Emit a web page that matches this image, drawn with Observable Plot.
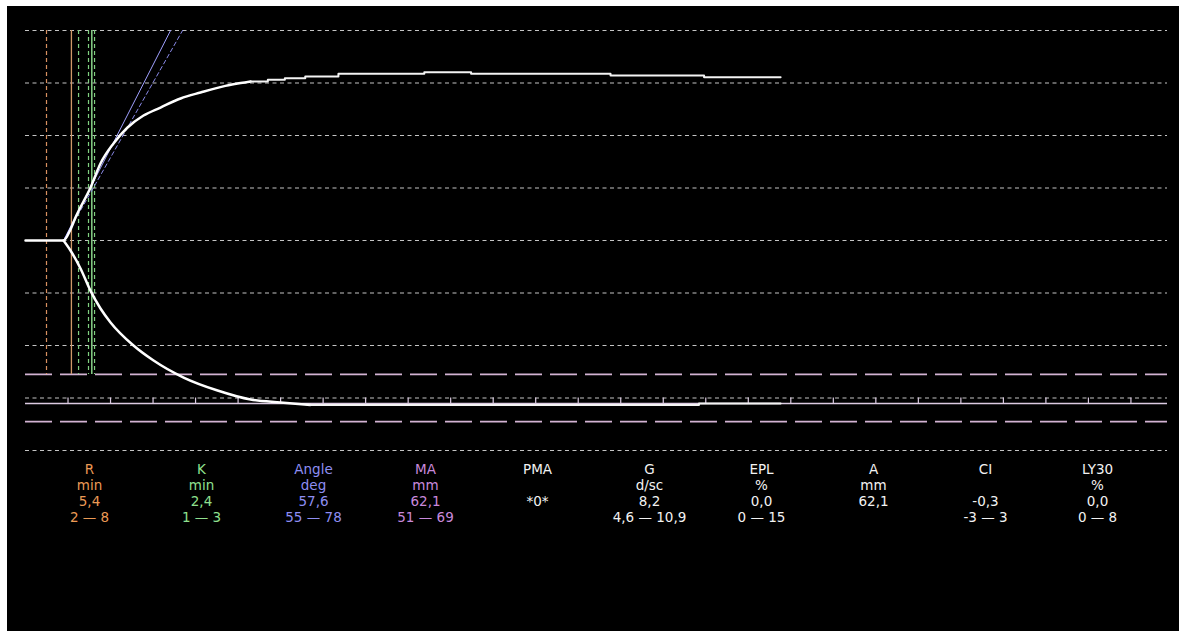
<!DOCTYPE html>
<html>
<head>
<meta charset="utf-8">
<script src="https://cdn.jsdelivr.net/npm/d3@7"></script>
<script src="https://cdn.jsdelivr.net/npm/@observablehq/plot@0.6"></script>
<style>
  html, body { background: #ffffff; }
  body { margin: 6px 0 0 7px; }
  #chart { width: 1172px; height: 625px; background: #000; overflow: hidden; }
  #chart svg { display: block; }
</style>
</head>
<body>
<div id="chart"></div>
<script>
// ---- Data (time in minutes, half-amplitude in mm) ----
const gridValues = [-40, -30, -20, -10, 0, 10, 20, 30, 40];

// Upper envelope, rising part
const upperT = [0, 4.47, 5.29, 5.88, 7.65, 8.82, 10.35, 12.0, 13.88, 15.88, 18.24, 20.59, 23.5, 25.3, 26.47];
const upperA = [0, 0, 2.1, 4.38, 10.1, 14.67, 18.48, 21.52, 23.8, 25.33, 27.05, 28.19, 29.45, 30.0, 30.3];
// Upper envelope, plateau (stepped)
const upperStepT = [26.47, 28.5, 30.5, 32.9, 36.8, 46.9, 52.4, 68.8, 79.8, 88.8];
const upperStepA = [30.3, 30.6, 30.9, 31.24, 31.75, 32.06, 31.75, 31.43, 31.1, 31.1];

// Lower envelope, falling part
const lowerT = [4.47, 5.29, 6.47, 7.65, 8.8, 10.0, 12.7, 15.06, 18.59, 22.59, 26.47, 30.0, 33.5];
const lowerA = [0, -1.9, -5.33, -9.6, -12.9, -15.6, -20, -22.86, -26.1, -28.57, -30.29, -30.86, -31.33];
// Lower envelope, plateau (stepped)
const lowerStepT = [33.5, 79.2, 88.8];
const lowerStepA = [-31.33, -31.05, -31.05];

// Angle construction lines
const angleSolidT = [4.47, 17.06];
const angleSolidA = [0, 40];
const angleDashT = [4.47, 18.47];
const angleDashA = [0, 40];

// Vertical markers (minutes)
const markerT     = [2.47, 5.4, 6.24, 7.41, 7.8, 8.12];
const markerParam = ["R", "R", "K", "K", "K", "K"];
const markerKind  = ["dash", "solid", "dash", "dash", "solid", "dash"];

// MA line, MA normal range (full amplitude, mm) and time ticks on the MA line (min)
const maValue = 62.1;
const maRange = [51, 69];
const maTicks = [5, 10, 15, 20, 25, 30, 35, 40, 45, 50, 55, 60, 65, 70, 75, 80, 85, 90, 95, 100, 105, 110, 115, 120, 125, 130];

// Parameter table
const params = ["R", "K", "Angle", "MA", "PMA", "G", "EPL", "A", "CI", "LY30"];
const units  = ["min", "min", "deg", "mm", "", "d/sc", "%", "mm", "", "%"];
const values = ["5,4", "2,4", "57,6", "62,1", "*0*", "8,2", "0,0", "62,1", "-0,3", "0,0"];
const ranges = ["2 — 8", "1 — 3", "55 — 78", "51 — 69", "", "4,6 — 10,9", "0 — 15", "", "-3 — 3", "0 — 8"];

// ---- Styles ----
const paramColor = {R: "#eb9a55", K: "#8fe08f", Angle: "#8e8ef2", MA: "#c889dc"};
const defaultText = "#f2f2f2";
const markerColor = {R: {dash: "#d89060", solid: "#d09868"}, K: {dash: "#80d080", solid: "#9cf09c"}};
const font = "'DejaVu Sans', sans-serif";

// ---- Build tables ----
const zip = (t, a) => t.map((v, i) => ({t: v, a: a[i]}));
const upper = zip(upperT, upperA);
const upperStep = zip(upperStepT, upperStepA);
const lower = zip(lowerT, lowerA);
const lowerStep = zip(lowerStepT, lowerStepA);
const angleSolid = zip(angleSolidT, angleSolidA);
const angleDash = zip(angleDashT, angleDashA);
const markers = markerT.map((t, i) => ({t, param: markerParam[i], kind: markerKind[i]}));
const xEnd = 134.3;

const tracePlot = Plot.plot({
  width: 1172, height: 454,
  marginTop: 24, marginBottom: 10, marginLeft: 18, marginRight: 12,
  x: {domain: [0, xEnd], axis: null},
  y: {domain: [-40, 40], axis: null},
  color: {type: "identity"},
  style: {background: "black", overflow: "visible"},
  marks: [
    Plot.ruleY(gridValues, {x1: 0, x2: xEnd, stroke: "#c4c4c4", strokeWidth: 1.1, strokeDasharray: "4,3.5"}),
    Plot.ruleY(maRange, {y: d => -d / 2, x1: 0, x2: xEnd, stroke: "#d3b3d3", strokeWidth: 1.6, strokeDasharray: "27,8"}),
    Plot.ruleY([maValue], {y: d => -d / 2, x1: 0, x2: xEnd, stroke: "#dccbe2", strokeWidth: 1.5}),
    Plot.ruleX(maTicks, {x: d => d, y1: -maValue / 2, y2: -30, stroke: "#dccbe2", strokeWidth: 1.2}),
    Plot.ruleX(markers.filter(d => d.kind === "dash"), {x: "t", y1: 40, y2: -maRange[0] / 2, stroke: d => markerColor[d.param].dash, strokeWidth: 1.2, strokeDasharray: "4,3"}),
    Plot.ruleX(markers.filter(d => d.kind === "solid"), {x: "t", y1: 40, y2: -maRange[0] / 2, stroke: d => markerColor[d.param].solid, strokeWidth: 1.3}),
    Plot.line(angleDash, {x: "t", y: "a", stroke: "#8a8ae8", strokeWidth: 1, strokeDasharray: "4,3"}),
    Plot.line(angleSolid, {x: "t", y: "a", stroke: "#a0a0ff", strokeWidth: 1}),
    Plot.line(upper, {x: "t", y: "a", stroke: "#ffffff", strokeWidth: 2.5, curve: "monotone-x"}),
    Plot.line(upperStep, {x: "t", y: "a", stroke: "#f4f4f4", strokeWidth: 2, curve: "step-after"}),
    Plot.line(lower, {x: "t", y: "a", stroke: "#ffffff", strokeWidth: 2.5, curve: "monotone-x"}),
    Plot.line(lowerStep, {x: "t", y: "a", stroke: "#f4f4f4", strokeWidth: 2, curve: "step-after"})
  ]
});

const rows = [params, units, values, ranges];
const cells = [];
rows.forEach((r, ri) => r.forEach((txt, ci) => { if (txt !== "") cells.push({param: params[ci], row: ri, text: txt}); }));

const tablePlot = Plot.plot({
  width: 1172, height: 171,
  marginTop: 9, marginBottom: 114, marginLeft: 81, marginRight: 82,
  x: {type: "point", domain: params, padding: 0, axis: null},
  y: {type: "point", domain: [0, 1, 2, 3], padding: 0, axis: null},
  color: {type: "identity"},
  style: {background: "black", fontFamily: font, overflow: "visible"},
  marks: [
    Plot.text(cells, {x: "param", y: "row", text: "text", fill: d => paramColor[d.param] || defaultText, fontSize: 13.5, lineAnchor: "middle", textAnchor: "middle"})
  ]
});

const el = document.getElementById("chart");
el.appendChild(tracePlot);
el.appendChild(tablePlot);
</script>
</body>
</html>
